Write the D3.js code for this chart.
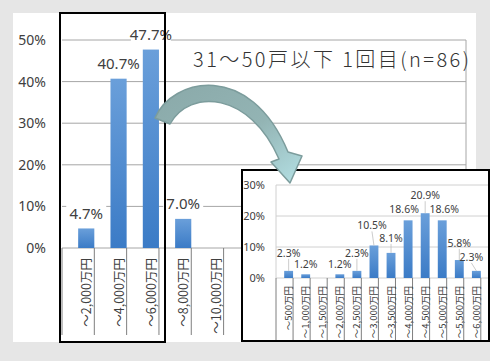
<!DOCTYPE html>
<html>
<head>
<meta charset="utf-8">
<script src="https://cdn.jsdelivr.net/npm/d3@7"></script>
<style>
  body { margin: 0; background: #e6e6e6; }
  text { font-family: "Noto Sans CJK JP", "Noto Sans", sans-serif; }
</style>
</head>
<body>
<script>
// main chart data (1回目, 31~50戸以下)
var mainCats = ["～2,000万円", "～4,000万円", "～6,000万円", "～8,000万円", "～10,000万円", "～12,000万円",
                "～14,000万円", "～16,000万円", "～18,000万円", "～20,000万円", "～22,000万円", "～24,000万円"];
var mainVals = [4.7, 40.7, 47.7, 7.0, 0, 0, 0, 0, 0, 0, 0, 0];
var mainTicks = [0, 10, 20, 30, 40, 50];
var title = "31～50戸以下 1回目(n=86)";

// detail chart data
var subCats = ["～500万円", "～1,000万円", "～1,500万円", "～2,000万円", "～2,500万円", "～3,000万円",
               "～3,500万円", "～4,000万円", "～4,500万円", "～5,000万円", "～5,500万円", "～6,000万円"];
var subVals = [2.3, 1.2, 0, 1.2, 2.3, 10.5, 8.1, 18.6, 20.9, 18.6, 5.8, 2.3];
var subTicks = [0, 10, 20, 30];

var W = 490, H = 361;
var svg = d3.select("body").append("svg")
  .attr("width", W)
  .attr("height", H);

var defs = svg.append("defs");
var grad = defs.append("linearGradient")
  .attr("id", "barGrad")
  .attr("x1", 0).attr("y1", 0).attr("x2", 0).attr("y2", 1);
grad.append("stop").attr("offset", "0%").attr("stop-color", "#6a9fda");
grad.append("stop").attr("offset", "100%").attr("stop-color", "#3b7bc6");

var arrowGrad = defs.append("linearGradient")
  .attr("id", "arrowGrad")
  .attr("x1", 0).attr("y1", 0).attr("x2", 1).attr("y2", 1);
arrowGrad.append("stop").attr("offset", "0%").attr("stop-color", "#8aa9a9");
arrowGrad.append("stop").attr("offset", "55%").attr("stop-color", "#93b4b4");
arrowGrad.append("stop").attr("offset", "100%").attr("stop-color", "#b4e0e4");

// background and white panel
svg.append("rect").attr("width", W).attr("height", H).attr("fill", "#e6e6e6");
svg.append("rect")
  .attr("x", 13).attr("y", 13)
  .attr("width", 463).attr("height", 329)
  .attr("fill", "#ffffff");

// ---- main chart ----
var x = d3.scaleBand().domain(mainCats).range([62, 466]).padding(0.5);
var y = d3.scaleLinear().domain([0, 50]).range([248, 40]);

svg.append("g")
  .selectAll("line")
  .data(mainTicks)
  .enter()
  .append("line")
  .attr("x1", 62).attr("x2", 466)
  .attr("y1", d => y(d)).attr("y2", d => y(d))
  .attr("stroke", "#a6a6a6")
  .attr("stroke-width", 1);

svg.append("line")
  .attr("x1", 466).attr("x2", 466)
  .attr("y1", y(50)).attr("y2", y(0))
  .attr("stroke", "#a6a6a6");

// y axis labels
var yAxis = d3.axisLeft(y).tickValues(mainTicks).tickSize(0).tickPadding(0)
  .tickFormat(d => d + "%");
var yg = svg.append("g").attr("transform", "translate(46,0)").call(yAxis);
yg.select(".domain").remove();
yg.selectAll("text")
  .attr("font-size", "14px")
  .attr("fill", "#404040")
  .style("font-family", "'Noto Sans', sans-serif");

// category separators below axis
var step = x.step();
svg.append("g")
  .selectAll("line")
  .data(d3.range(mainCats.length + 1))
  .enter()
  .append("line")
  .attr("x1", i => 62 + i * step).attr("x2", i => 62 + i * step)
  .attr("y1", 248).attr("y2", 335)
  .attr("stroke", "#7f7f7f");

// bars
svg.append("g")
  .selectAll("rect")
  .data(mainVals)
  .enter()
  .append("rect")
  .attr("x", (d, i) => x(mainCats[i]))
  .attr("y", d => y(d))
  .attr("width", x.bandwidth())
  .attr("height", d => y(0) - y(d))
  .attr("fill", "url(#barGrad)");

// data labels with white background
var ml = svg.append("g")
  .selectAll("g")
  .data(mainVals.map((v, i) => ({v: v, c: mainCats[i]})).filter(d => d.v > 0))
  .enter()
  .append("g")
  .attr("transform", d => "translate(" + (x(d.c) + x.bandwidth() / 2) + "," + (y(d.v) - 15) + ")");
ml.append("rect")
  .attr("x", -20).attr("y", -9)
  .attr("width", 40).attr("height", 18)
  .attr("fill", "#ffffff");
ml.append("text")
  .attr("text-anchor", "middle")
  .attr("dy", "0.36em")
  .attr("font-size", "15px")
  .attr("fill", "#404040")
  .style("font-family", "'Noto Sans', sans-serif")
  .text(d => d.v.toFixed(1) + "%");

// rotated category labels
svg.append("g")
  .selectAll("text")
  .data(mainCats)
  .enter()
  .append("text")
  .attr("transform", d => "translate(" + (x(d) + x.bandwidth() / 2 + 5) + ",258) rotate(-90)")
  .attr("text-anchor", "end")
  .attr("font-size", "12.5px")
  .attr("fill", "#404040")
  .text(d => d);

// title
svg.append("text")
  .attr("x", 193).attr("y", 67)
  .attr("font-size", "20px")
  .attr("font-weight", 300)
  .attr("fill", "#333333")
  .attr("textLength", 276)
  .attr("lengthAdjust", "spacing")
  .text(title);

// highlight box
svg.append("rect")
  .attr("x", 60).attr("y", 13)
  .attr("width", 105).attr("height", 329)
  .attr("fill", "none")
  .attr("stroke", "#000000")
  .attr("stroke-width", 2);

// ---- detail inset ----
svg.append("rect")
  .attr("x", 242).attr("y", 170)
  .attr("width", 247).attr("height", 171)
  .attr("fill", "#ffffff");

var sx = d3.scaleBand().domain(subCats).range([276, 489]).padding(0.48);
var sy = d3.scaleLinear().domain([0, 30]).range([278, 185]);

svg.append("g")
  .selectAll("line")
  .data(subTicks)
  .enter()
  .append("line")
  .attr("x1", 276).attr("x2", 489)
  .attr("y1", d => sy(d)).attr("y2", d => sy(d))
  .attr("stroke", "#d0d0d0");

svg.append("line")
  .attr("x1", 276).attr("x2", 276)
  .attr("y1", sy(30)).attr("y2", sy(0))
  .attr("stroke", "#d0d0d0");

var syAxis = d3.axisLeft(sy).tickValues(subTicks).tickSize(0).tickPadding(0)
  .tickFormat(d => d + "%");
var syg = svg.append("g").attr("transform", "translate(265,0)").call(syAxis);
syg.select(".domain").remove();
syg.selectAll("text")
  .attr("font-size", "11px")
  .attr("fill", "#404040")
  .style("font-family", "'Noto Sans', sans-serif");

var sstep = sx.step();
svg.append("g")
  .selectAll("line")
  .data(d3.range(subCats.length + 1))
  .enter()
  .append("line")
  .attr("x1", i => 276 + i * sstep).attr("x2", i => 276 + i * sstep)
  .attr("y1", 278).attr("y2", 340)
  .attr("stroke", "#7f7f7f");

svg.append("g")
  .selectAll("rect")
  .data(subVals)
  .enter()
  .append("rect")
  .attr("x", (d, i) => sx(subCats[i]))
  .attr("y", d => sy(d))
  .attr("width", sx.bandwidth())
  .attr("height", d => sy(0) - sy(d))
  .attr("fill", "url(#barGrad)");

// label nudges (pixels) - labels were dragged by hand in the original
var nudgeX = [0, 0, 0, 0, 0, -2, 0, -4, 0, 2, 0, -5];
var nudgeY = [-18, -10, 0, -10, -18, -20, -15, -11, -18, -11, -17, -14];

var subLab = subVals.map((v, i) => ({
  v: v,
  cx: sx(subCats[i]) + sx.bandwidth() / 2,
  top: sy(v),
  lx: sx(subCats[i]) + sx.bandwidth() / 2 + nudgeX[i],
  ly: sy(v) + nudgeY[i]
})).filter(d => d.v > 0);

svg.append("g")
  .selectAll("line")
  .data(subLab.filter(d => d.top - d.ly > 12))
  .enter()
  .append("line")
  .attr("x1", d => d.cx).attr("x2", d => d.lx)
  .attr("y1", d => d.top).attr("y2", d => d.ly + 6)
  .attr("stroke", "#bfbfbf")
  .attr("stroke-width", 0.8);

svg.append("g")
  .selectAll("text")
  .data(subLab)
  .enter()
  .append("text")
  .attr("x", d => d.lx)
  .attr("y", d => d.ly)
  .attr("dy", "0.36em")
  .attr("text-anchor", "middle")
  .attr("font-size", "10.5px")
  .attr("fill", "#404040")
  .style("font-family", "'Noto Sans', sans-serif")
  .text(d => d.v.toFixed(1) + "%");

svg.append("g")
  .selectAll("text")
  .data(subCats)
  .enter()
  .append("text")
  .attr("transform", d => "translate(" + (sx(d) + sx.bandwidth() / 2 + 3.5) + ",286) rotate(-90)")
  .attr("text-anchor", "end")
  .attr("font-size", "9.5px")
  .attr("fill", "#404040")
  .text(d => d);

svg.append("rect")
  .attr("x", 242).attr("y", 170)
  .attr("width", 247).attr("height", 171)
  .attr("fill", "none")
  .attr("stroke", "#000000")
  .attr("stroke-width", 2);

// curved arrow from main chart to inset
svg.append("path")
  .attr("d", "M155,118 C172,78 250,60 288,152 L302,156 L290,183 L271,162 L279,159 C250,92 190,88 170,124 Z")
  .attr("fill", "url(#arrowGrad)")
  .attr("stroke", "#7c9c9c")
  .attr("stroke-width", 1.5)
  .attr("stroke-linejoin", "round");
</script>
</body>
</html>
